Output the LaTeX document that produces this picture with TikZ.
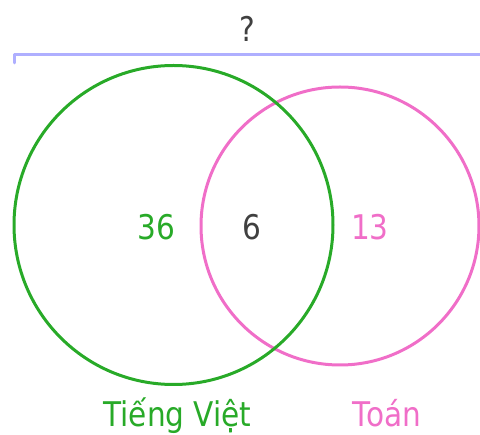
\documentclass[tikz,border=0pt]{standalone}
\usepackage{fontspec}
\setmainfont{DejaVu Sans}[FakeStretch=0.87]
\definecolor{tvgreen}{RGB}{40,170,40}
\definecolor{toanpink}{RGB}{240,110,200}
\definecolor{bracketblue}{RGB}{175,175,255}
\definecolor{textgray}{RGB}{64,64,64}

\begin{document}
\begin{tikzpicture}[line cap=round,line join=round,x=1pt,y=-1pt,
	greenset/.style={draw=tvgreen,line width=3pt},
	pinkset/.style={draw=toanpink,line width=3pt},
	lbl/.style={anchor=base,inner sep=0pt,font=\fontsize{34}{40}\selectfont}]
		\useasboundingbox (0,0) rectangle (480,435);
		\clip (0,0) rectangle (480,435);
		\draw [bracketblue,line width=3pt] (14,63)-- (14,55)-- (490,55);
		\draw [pinkset] (340,226) circle (139);
		\draw [greenset] (173.5,225) circle (159.5);
		\node[lbl,textgray] (tong) at (247,42) {?};
		\node[lbl,tvgreen] (chitv) at (156.5,240) {36};
		\node[lbl,textgray] (ca2) at (252,240) {6};
		\node[lbl,toanpink] (chitoan) at (370,240) {13};
		\node[lbl,tvgreen] (tentv) at (177.5,427) {Tiếng Việt};
		\node[lbl,toanpink] (tentoan) at (387,427) {Toán};
		\end{tikzpicture}
\end{document}
